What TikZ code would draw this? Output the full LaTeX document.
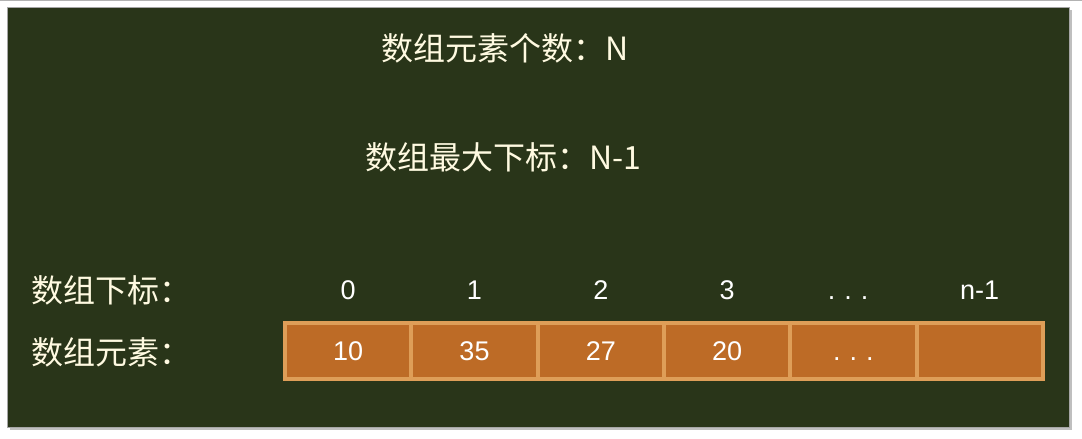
\documentclass[tikz,border=0pt]{standalone}
\usepackage{fontspec}
\setmainfont{Liberation Sans}
\newfontfamily\cjk{Noto Sans CJK SC}
\definecolor{board}{RGB}{41,53,25}
\definecolor{chalk}{RGB}{255,250,225}
\definecolor{cellfill}{RGB}{189,107,38}
\definecolor{celledge}{RGB}{222,158,88}
\newcommand{\spreaddots}{\vphantom{0}.\hspace{9pt}.\hspace{9pt}.}
\tikzset{
  cjklabel/.style={text=chalk, inner sep=0pt, font=\cjk\fontsize{32}{36}\selectfont},
  idxlabel/.style={text=white, inner sep=0pt, font=\fontsize{27}{32}\selectfont},
  cellbox/.style={draw=celledge, line width=4pt, fill=cellfill, text=white,
    minimum width=126.3pt, minimum height=56pt, inner sep=0pt,
    font=\fontsize{27}{32}\selectfont}
}
\begin{document}
\begin{tikzpicture}[x=1pt, y=-1pt]
\useasboundingbox (0,0) rectangle (1082,439);
\fill[white] (0,0) rectangle (1082,439);
\draw[black!30, line width=1pt] (0,0.5) -- (1082,0.5);
\fill[black!25] (10,10) rectangle (1072,430);
\fill[board] (7,7) rectangle (1069,427);
\draw[black!35, line width=0.8pt] (7,7) rectangle (1069,427);
% headings
\node[cjklabel] (count) at (505,48) {数组元素个数：N};
\node[cjklabel] (maxidx) at (503,157) {数组最大下标：N-1};
% row titles
\node[cjklabel, anchor=west] (idxrow) at (31,290) {数组下标：};
\node[cjklabel, anchor=west] (elemrow) at (31,352) {数组元素：};
% cells
\node[cellbox] (c0) at (348.2,351) {10};
\node[cellbox] (c1) at (474.5,351) {35};
\node[cellbox] (c2) at (600.8,351) {27};
\node[cellbox] (c3) at (727.1,351) {20};
\node[cellbox] (c4) at (853.4,351) {\spreaddots};
\node[cellbox] (c5) at (979.7,351) {};
% indices
\node[idxlabel] (i0) at (348.2,290) {0};
\node[idxlabel] (i1) at (474.5,290) {1};
\node[idxlabel] (i2) at (600.8,290) {2};
\node[idxlabel] (i3) at (727.1,290) {3};
\node[idxlabel] (i4) at (848,290) {\spreaddots};
\node[idxlabel] (i5) at (979.7,290) {n-1};
\end{tikzpicture}
\end{document}
